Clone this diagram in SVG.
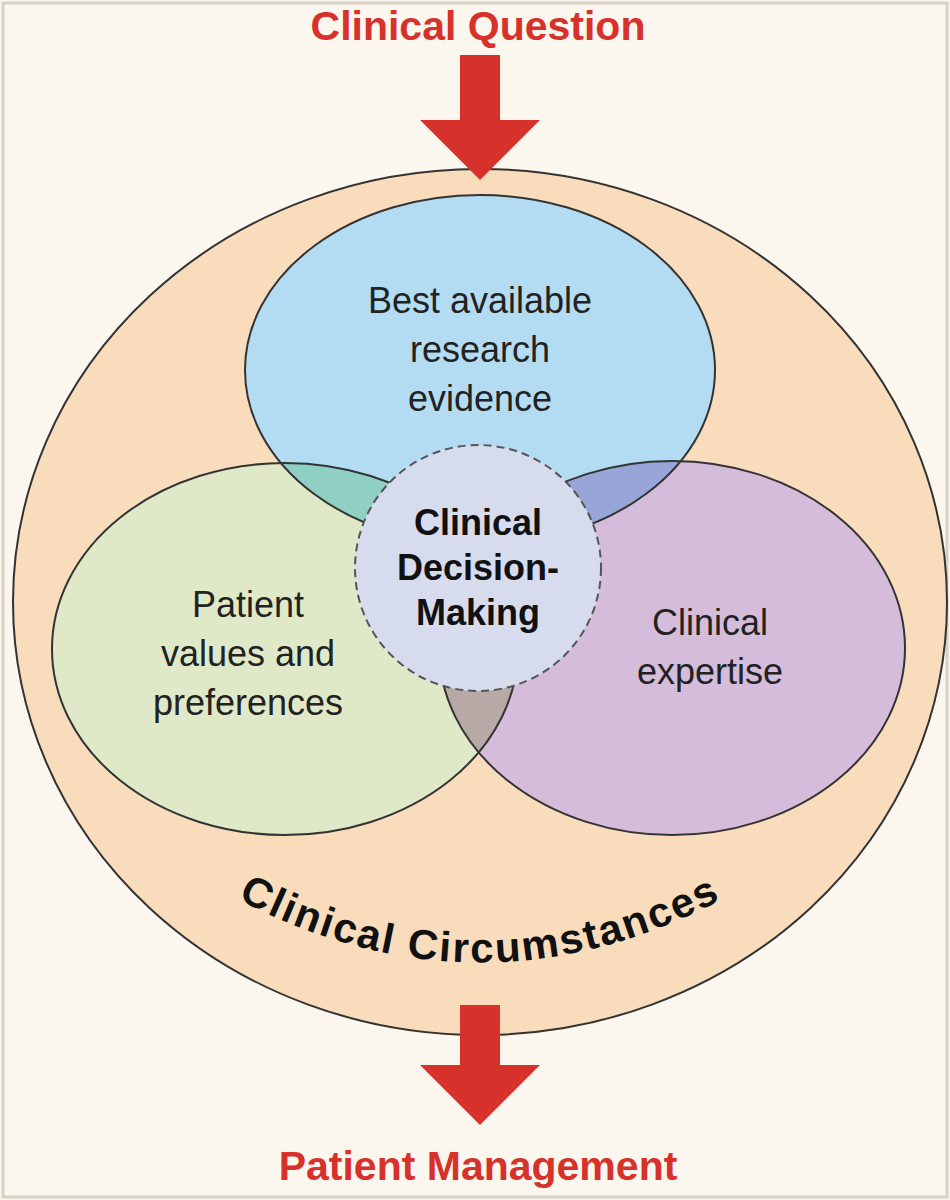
<svg xmlns="http://www.w3.org/2000/svg" width="950" height="1200" viewBox="0 0 950 1200">
<style>
.lbl{font-family:"Liberation Sans",Arial,sans-serif;font-size:36px;fill:#222;text-anchor:middle}
.red{font-family:"Liberation Sans",Arial,sans-serif;font-size:41px;font-weight:bold;fill:#d7312c;text-anchor:middle}
.ol{stroke:#333;stroke-width:2;fill:none}
</style>
<defs>
<clipPath id="cb"><ellipse cx="480" cy="370" rx="235" ry="175"/></clipPath>
<clipPath id="cg"><ellipse cx="285" cy="649" rx="233" ry="186"/></clipPath>
<path id="arc" d="M 195 875 Q 480 1050 765 875"/>
</defs>
<rect x="0" y="0" width="950" height="1200" fill="#fbf7ee"/>
<rect x="3" y="3" width="944" height="1194" fill="none" stroke="#d8d2c4" stroke-width="3"/>
<g id="circumstances">
<ellipse cx="480" cy="602" rx="467" ry="433" fill="#f8dcbc" stroke="#333" stroke-width="2"/>
<text class="lbl" style="font-weight:900;font-size:42px;letter-spacing:2px;fill:#111"><textPath href="#arc" startOffset="50%">Clinical Circumstances</textPath></text>
</g>
<g id="evidence"><ellipse cx="480" cy="370" rx="235" ry="175" fill="#b3dcf3"/></g>
<g id="patient"><ellipse cx="285" cy="649" rx="233" ry="186" fill="#dfe9c8"/></g>
<g id="expertise"><ellipse cx="672" cy="648" rx="233" ry="187" fill="#d5bcdb"/></g>
<g id="overlaps">
<ellipse cx="285" cy="649" rx="233" ry="186" fill="#90cfc3" clip-path="url(#cb)"/>
<ellipse cx="672" cy="648" rx="233" ry="187" fill="#98a5d8" clip-path="url(#cb)"/>
<ellipse cx="672" cy="648" rx="233" ry="187" fill="#b7aaa6" clip-path="url(#cg)"/>
<ellipse cx="480" cy="370" rx="235" ry="175" class="ol"/>
<ellipse cx="285" cy="649" rx="233" ry="186" class="ol"/>
<ellipse cx="672" cy="648" rx="233" ry="187" class="ol"/>
</g>
<g id="decision">
<circle cx="478" cy="568" r="123" fill="#d6dcee" stroke="#555" stroke-width="2" stroke-dasharray="8 5"/>
<text class="lbl" style="font-weight:bold;fill:#111" x="478" y="535">Clinical</text>
<text class="lbl" style="font-weight:bold;fill:#111" x="478" y="580">Decision-</text>
<text class="lbl" style="font-weight:bold;fill:#111" x="478" y="625">Making</text>
</g>
<g id="labels">
<text class="lbl" x="480" y="313">Best available</text>
<text class="lbl" x="480" y="362">research</text>
<text class="lbl" x="480" y="411">evidence</text>
<text class="lbl" x="248" y="617">Patient</text>
<text class="lbl" x="248" y="666">values and</text>
<text class="lbl" x="248" y="715">preferences</text>
<text class="lbl" x="710" y="635">Clinical</text>
<text class="lbl" x="710" y="684">expertise</text>
</g>
<g id="connectors" fill="#d7312c">
<polygon points="460,55 500,55 500,120 540,120 480,180 420,120 460,120"/>
<polygon points="460,1005 500,1005 500,1065 540,1065 480,1125 420,1065 460,1065"/>
</g>
<text class="red" x="478" y="40">Clinical Question</text>
<text class="red" x="478" y="1180">Patient Management</text>
</svg>
